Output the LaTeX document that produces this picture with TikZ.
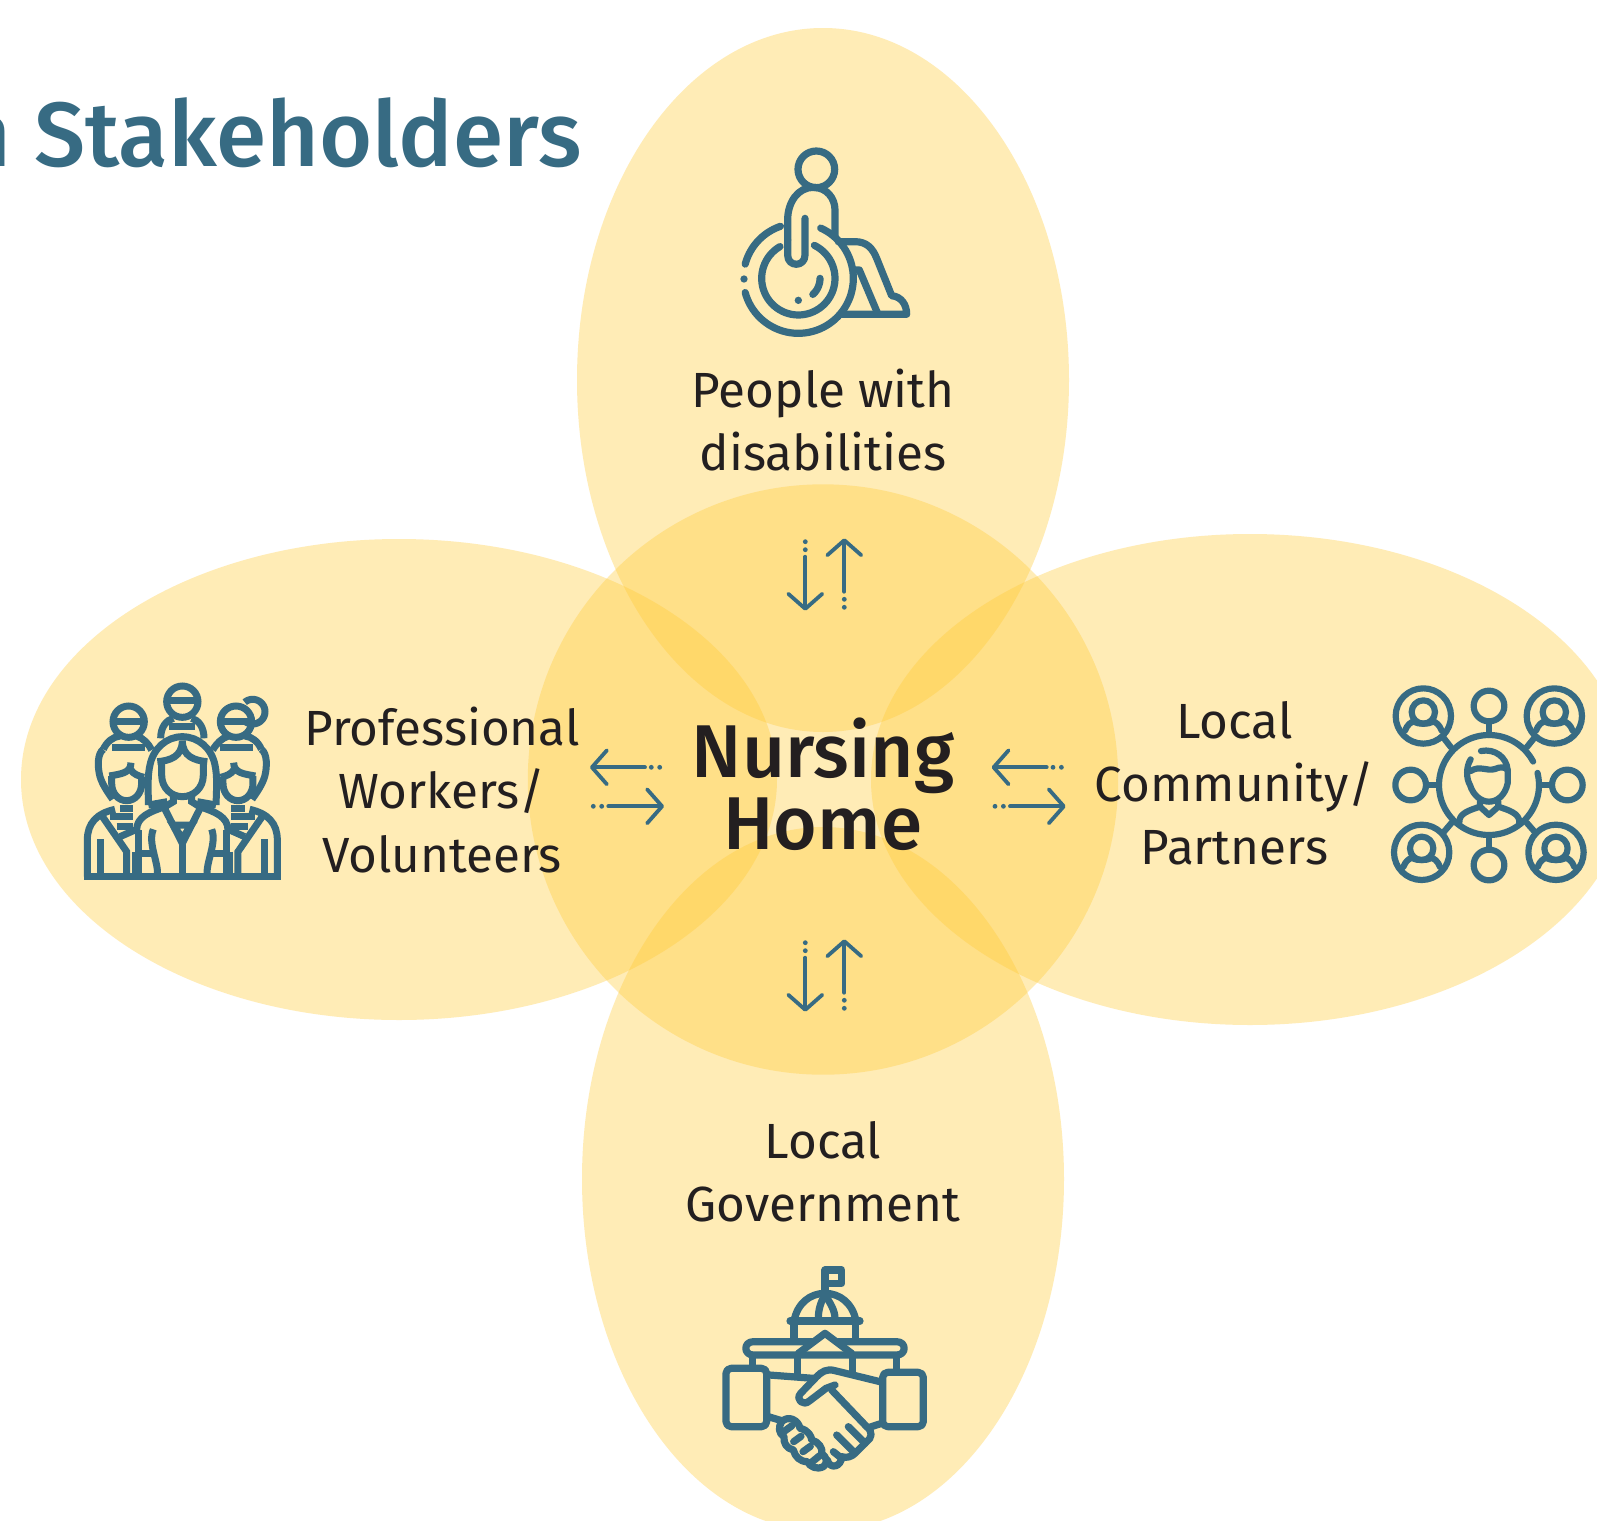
\documentclass[tikz,border=0pt]{standalone}
\usepackage{fontspec}
\setmainfont{Fira Sans}
\newfontfamily\medfont{Fira Sans Medium}
\usetikzlibrary{arrows.meta}
\definecolor{petal}{RGB}{255,203,55}
\definecolor{teal}{RGB}{55,107,131}
\definecolor{ink}{RGB}{35,31,32}
\tikzset{
  petalfill/.style={fill=petal,fill opacity=0.36,draw=none},
  icon/.style={draw=teal,line width=3.6pt,line cap=round,line join=round},
  iconthin/.style={draw=teal,line width=3.1pt,line cap=round,line join=round},
  iconmiter/.style={draw=teal,line width=3.5pt,line cap=butt,line join=miter},
  flow/.style={draw=teal,line width=1.9pt,line cap=round,-{Straight Barb[length=7.5pt,width=17pt,line width=1.9pt,round]}},
  flowdot/.style={fill=teal,draw=none},
  label/.style={text=ink,align=center,font=\fontsize{24.7}{31.6}\selectfont,inner sep=0pt},
  hub/.style={text=ink,align=center,font=\fontsize{37.4}{36}\selectfont\medfont,inner sep=0pt},
  titletext/.style={text=teal,font=\fontsize{45.6}{50}\selectfont\medfont,inner sep=0pt}
}
\newcommand{\iarc}[5]{plot[domain=#4:#5,samples=60,smooth] ({#1+#3*cos(\x)},{#2+#3*sin(\x)})}
\newcommand{\personbadge}[2]{%
  \begin{scope}[shift={(#1,#2)}]
    \draw[iconthin] (0,0) circle [radius=83];
    \draw[iconthin] (0,-12) circle [radius=35];
    \draw[iconthin] (-55,44) .. controls (-48,25) and (-38,20) .. (-27,14);
    \draw[iconthin] (55,44) .. controls (48,25) and (38,20) .. (27,14);
    \draw[iconthin] (-27,18) .. controls (-15,25) and (15,25) .. (27,18);
  \end{scope}}
\newcommand{\flowpairv}[3]{%
  \begin{scope}[shift={(#2,#3)}]
    \coordinate (#1ds) at (805.3,556.7);
    \coordinate (#1de) at (805.3,610.7);
    \coordinate (#1us) at (844.3,591.7);
    \coordinate (#1ue) at (844.3,538.3);
    \draw[flow] (#1ds) -- (#1de);
    \draw[flow] (#1us) -- (#1ue);
    \fill[flowdot] (805.3,549.7) circle [radius=2.4];
    \fill[flowdot] (805.3,541.7) circle [radius=2.4];
    \fill[flowdot] (844.3,599.3) circle [radius=2.4];
    \fill[flowdot] (844.3,607.3) circle [radius=2.4];
  \end{scope}}
\newcommand{\flowpairh}[3]{%
  \begin{scope}[shift={(#2,#3)}]
    \coordinate (#1ls) at (645,767.3);
    \coordinate (#1le) at (590,767.3);
    \coordinate (#1rs) at (608.3,806.3);
    \coordinate (#1re) at (664,806.3);
    \draw[flow] (#1ls) -- (#1le);
    \draw[flow] (#1rs) -- (#1re);
    \fill[flowdot] (651.3,767.3) circle [radius=2.4];
    \fill[flowdot] (659.7,767.3) circle [radius=2.4];
    \fill[flowdot] (601.7,806.3) circle [radius=2.4];
    \fill[flowdot] (593.3,806.3) circle [radius=2.4];
  \end{scope}}
\newcommand{\sideperson}{%
  \draw[iconmiter] (100,238) .. controls (82,250) and (82,290) .. (90,320) .. controls (98,345) and (112,365) .. (128,388);
  \draw[iconmiter] (125,318) -- (125,340) .. controls (125,370) and (145,392) .. (170,392) .. controls (195,392) and (215,370) .. (215,340) -- (215,320);
  \draw[iconmiter] (118,318) .. controls (150,312) and (183,310) .. (183,278);
  \draw[iconmiter] (183,300) .. controls (190,312) and (205,318) .. (222,322);
  \draw[iconmiter] (52,620) -- (52,510) .. controls (52,460) and (80,430) .. (135,418);
  \draw[iconmiter] (92,432) -- (170,545) -- (170,620);
  \draw[iconmiter] (90,508) -- (90,612);
  \draw[iconmiter] (150,415) -- (190,415);
  \draw[iconmiter] (120,440) -- (190,440);
  \draw[iconmiter] (140,470) -- (190,470);
  \draw[iconmiter] (150,500) -- (195,480);
  \draw[iconmiter] (196,545) -- (196,620);
  \draw[iconmiter] (200,480) .. controls (200,440) and (240,425) .. (285,410);
}
\begin{document}
\begin{tikzpicture}[x=0.5pt,y=-0.5pt]
\useasboundingbox (0,0) rectangle (1597,1521);
\clip (0,0) rectangle (1597,1521);
\fill[white] (0,0) rectangle (1597,1521);

% petals and hub disc
\fill[petalfill] (823,380) circle [x radius=246,y radius=352];
\fill[petalfill] (823,1179) circle [x radius=241,y radius=352];
\fill[petalfill] (399,779.5) circle [x radius=378,y radius=240.5];
\fill[petalfill] (1250,779.5) circle [x radius=379,y radius=245.5];
\fill[petalfill] (823,779.5) circle [radius=295.2];

% title
\node[titletext,anchor=base east] (title) at (582,166) {n Stakeholders};

% labels
\node[label] (people) at (823,420) {People with\\disabilities};
\node[label] (workers) at (442,790) {Professional\\Workers/\\Volunteers};
\node[label] (community) at (1234.5,783.5) {Local\\Community/\\Partners};
\node[label] (government) at (823,1172) {Local\\Government};
\node[hub] (hub) at (823,784) {Nursing\\Home};

% flow arrows
\flowpairv{topf}{0}{0}
\flowpairv{botf}{0}{401}
\flowpairh{leftf}{0}{0}
\flowpairh{rightf}{401.7}{0}

% wheelchair icon
\begin{scope}[shift={(700,130)},scale=1/3]
  \draw[icon] (349,118) circle [radius=55];
  \draw[icon] (263,330) -- (263,270) .. controls (263,215) and (295,172) .. (340,172) .. controls (380,172) and (405,205) .. (405,240) -- (405,320);
  \draw[icon] (263,330) -- (263,375) .. controls (263,412) and (315,412) .. (315,375) -- (315,265);
  \draw[icon] \iarc{295}{445}{165}{195}{251};
  \draw[icon] \iarc{295}{445}{165}{-66}{165};
  \fill[teal] (132,447) circle [radius=11];
  \draw[icon] \iarc{295}{445}{110}{-64}{240};
  \draw[icon] \iarc{295}{445}{65}{0}{48};
  \fill[teal] (295,511) circle [radius=11];
  \draw[icon] (415,335) -- (465,335) .. controls (500,335) and (518,355) .. (530,385) -- (575,497) .. controls (605,500) and (620,525) .. (620,553) -- (425,553);
  \draw[icon] (465,420) -- (478,420) -- (532,548);
\end{scope}

% group icon
\begin{scope}[shift={(70,670)},scale=1/3]
  \draw[iconmiter] (176,155) circle [radius=47];
  \draw[iconmiter] (128,155) -- (224,155);
  \draw[iconmiter] (337,95) circle [radius=47];
  \draw[iconmiter] (289,90) -- (385,90);
  \draw[iconmiter] (498,155) circle [radius=47];
  \draw[iconmiter] (450,155) -- (546,155);
  \draw[iconmiter] \iarc{548}{125}{37}{-130}{125};
  \draw[iconmiter] (272,205) .. controls (272,170) and (290,150) .. (310,145);
  \draw[iconmiter] (402,205) .. controls (402,170) and (385,150) .. (365,145);
  \draw[iconmiter] (298,170) -- (376,170);
  \draw[iconmiter] (100,238) .. controls (110,215) and (130,200) .. (150,198);
  \draw[iconmiter] (245,240) .. controls (235,220) and (220,205) .. (200,198);
  \draw[iconmiter] (428,240) .. controls (440,220) and (455,205) .. (475,198);
  \draw[iconmiter] (574,238) .. controls (565,215) and (545,200) .. (525,198);
  \draw[iconmiter] (125,232) -- (225,232);
  \draw[iconmiter] (450,232) -- (550,232);
  \sideperson
  \begin{scope}[shift={(674,0)},xscale=-1]
    \sideperson
  \end{scope}
  % centre figure
  \draw[iconmiter] (235,405) .. controls (235,350) and (232,320) .. (240,285) .. controls (250,235) and (290,200) .. (337,200) .. controls (385,200) and (425,235) .. (435,285) .. controls (442,320) and (440,350) .. (438,405);
  \draw[iconmiter] (235,405) -- (292,395);
  \draw[iconmiter] (438,405) -- (382,395);
  \draw[iconmiter] (262,275) .. controls (300,272) and (337,260) .. (337,212) .. controls (337,260) and (375,272) .. (412,275);
  \draw[iconmiter] (275,275) -- (275,315) .. controls (275,355) and (305,380) .. (337,380) .. controls (370,380) and (400,355) .. (400,315) -- (400,275);
  \draw[iconmiter] (310,375) -- (310,395) -- (282,412) -- (337,520) -- (392,412) -- (365,395) -- (365,375);
  \draw[iconmiter] (310,465) -- (364,465) -- (337,505) -- cycle;
  \draw[iconmiter] (337,510) -- (337,620);
  \draw[iconmiter] (205,620) -- (205,480);
  \draw[iconmiter] (469,620) -- (469,480);
  \draw[iconmiter] (250,478) .. controls (232,520) and (268,580) .. (262,620);
  \draw[iconmiter] (425,478) .. controls (442,520) and (405,580) .. (412,620);
  \draw[iconmiter] (195,550) -- (245,550);
  \draw[iconmiter] (430,550) -- (480,550);
  \draw[iconmiter] (42,620) -- (632,620);
\end{scope}

% network icon
\begin{scope}[shift={(1380,670)},scale=1/3]
  \draw[iconthin] \iarc{327}{345}{150}{-14}{332};
  \draw[iconthin] (327,108) circle [radius=46];
  \draw[iconthin] (92,345) circle [radius=46];
  \draw[iconthin] (562,345) circle [radius=46];
  \draw[iconthin] (327,585) circle [radius=46];
  \draw[iconthin] (327,155) -- (327,195);
  \draw[iconthin] (138,345) -- (177,345);
  \draw[iconthin] (516,345) -- (477,345);
  \draw[iconthin] (327,539) -- (327,495);
  \personbadge{130}{138}
  \personbadge{523}{138}
  \personbadge{125}{547}
  \personbadge{528}{547}
  \draw[iconthin] (188,200) -- (213,232);
  \draw[iconthin] (466,200) -- (440,232);
  \draw[iconthin] (188,490) -- (215,458);
  \draw[iconthin] (468,490) -- (440,458);
  \draw[iconthin] (272,268) .. controls (258,290) and (258,325) .. (270,345) .. controls (280,378) and (305,395) .. (327,395) .. controls (350,395) and (375,378) .. (383,340) -- (383,300) .. controls (380,262) and (345,235) .. (303,243);
  \draw[iconthin] (272,303) .. controls (300,285) and (320,305) .. (345,297) .. controls (360,290) and (375,290) .. (383,300);
  \draw[iconthin] (300,395) -- (300,410) -- (327,435) -- (355,410) -- (355,395);
  \draw[iconthin] (238,458) .. controls (235,430) and (270,420) .. (300,410);
  \draw[iconthin] (418,458) .. controls (420,430) and (385,420) .. (355,410);
\end{scope}

% government and handshake icon
\begin{scope}[shift={(710,1250)},scale=1/3]
  \draw[icon] (345,125) -- (345,60) -- (395,60) -- (395,100) -- (345,100);
  \draw[icon] (252,213) .. controls (262,160) and (300,130) .. (345,130) .. controls (390,130) and (428,160) .. (438,213);
  \draw[icon] (240,213) -- (450,213);
  \draw[icon] (345,135) .. controls (332,155) and (325,180) .. (325,205);
  \draw[icon] (345,135) .. controls (358,155) and (375,180) .. (375,205);
  \draw[icon] (252,213) -- (252,270);
  \draw[icon] (437,213) -- (437,270);
  \draw[icon] (305,275) -- (130,275) .. controls (100,275) and (100,315) .. (130,315) -- (560,315) .. controls (590,315) and (590,275) .. (560,275) -- (385,275);
  \draw[icon] (265,310) -- (345,250) -- (425,310);
  \draw[icon] (128,320) -- (128,350);
  \draw[icon] (560,320) -- (560,362);
  \draw[icon] (262,320) -- (262,378);
  \draw[icon] (427,320) -- (427,372);
  \draw[icon,rounded corners=2.5pt] (48,355) rectangle (170,530);
  \draw[icon,rounded corners=2.5pt] (518,367) rectangle (640,530);
  \draw[icon] (178,375) -- (310,385);
  \draw[icon] (510,395) -- (375,362) .. controls (350,355) and (335,365) .. (320,380) -- (272,430) .. controls (255,448) and (280,470) .. (298,453) -- (348,415) -- (375,405);
  \draw[icon] (365,420) -- (470,530) .. controls (490,545) and (485,565) .. (470,575) -- (435,610) .. controls (425,620) and (410,625) .. (395,620);
  \draw[icon] (380,555) -- (430,605);
  \draw[icon] (415,530) -- (465,580);
  \draw[icon] (395,620) .. controls (395,650) and (360,660) .. (352,630);
  \draw[icon] (370,605) -- (395,625);
  \draw[icon] (175,500) -- (215,512);
  \draw[icon] (515,520) -- (478,532);
  \draw[icon] (215,515) .. controls (235,495) and (265,510) .. (270,535) .. controls (295,540) and (305,560) .. (305,570) .. controls (325,575) and (340,595) .. (335,610) .. controls (350,620) and (355,640) .. (340,650) .. controls (320,660) and (300,650) .. (292,635) .. controls (270,635) and (255,620) .. (250,600) .. controls (230,595) and (220,580) .. (222,560) .. controls (205,550) and (205,530) .. (215,515);
  \draw[icon] (224,543) -- (246,527);
  \draw[icon] (251,575) -- (273,559);
  \draw[icon] (279,605) -- (301,589);
  \draw[icon] (307,635) -- (329,617);
\end{scope}
\end{tikzpicture}
\end{document}
